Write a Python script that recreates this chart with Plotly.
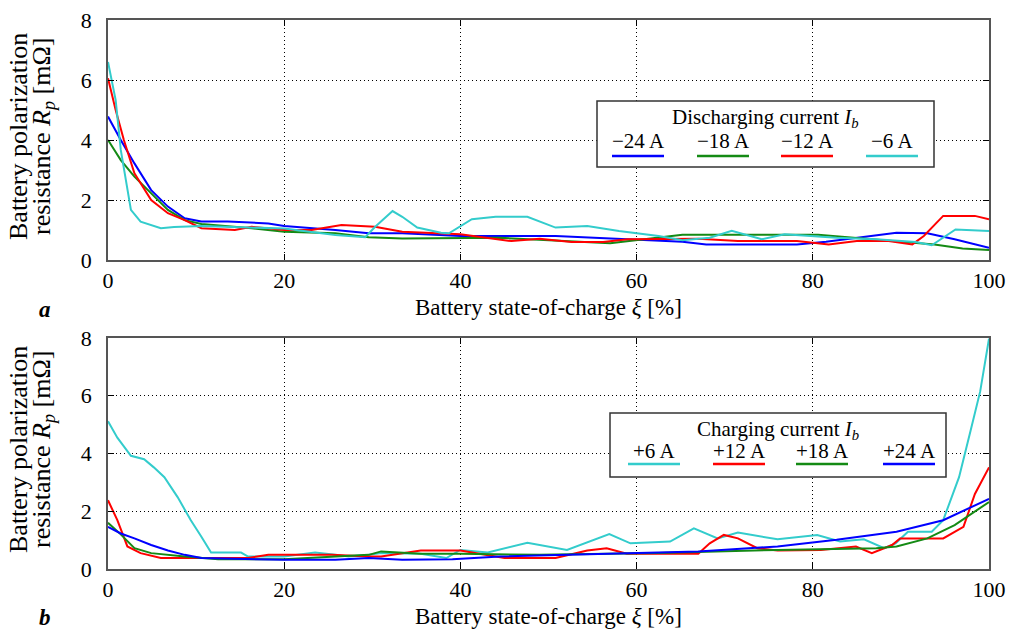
import plotly.graph_objects as go

# ---------------- data ----------------
# (a) discharging
dis_labels = ["\u221224 A", "\u221218 A", "\u221212 A", "\u22126 A"]
dis_colors = ["#0000ff", "#148a14", "#ff0000", "#33cccc"]

d24_x = [0, 1.45, 3.0, 4.9, 6.8, 8.7, 10.6, 13.6, 18.2, 20, 25.8, 29.6, 33.4, 40, 50.8, 58, 65.2, 67.9, 78.2, 81.5, 86.4, 89.5, 93, 96.1, 100]
d24_y = [4.78, 4.0, 3.22, 2.33, 1.78, 1.39, 1.28, 1.28, 1.22, 1.13, 1.0, 0.89, 0.89, 0.8, 0.8, 0.71, 0.61, 0.52, 0.52, 0.61, 0.8, 0.91, 0.89, 0.69, 0.41]

d18_x = [0, 1.45, 3.0, 4.9, 6.8, 8.7, 10.6, 16.3, 20, 25.8, 29.6, 33.4, 44.5, 57, 60.2, 65.2, 80.6, 85, 89.5, 93.8, 97, 100]
d18_y = [4.0, 3.33, 2.78, 2.22, 1.67, 1.33, 1.2, 1.06, 0.94, 0.89, 0.76, 0.72, 0.74, 0.56, 0.67, 0.84, 0.84, 0.74, 0.63, 0.52, 0.38, 0.33]

d12_x = [0, 0.87, 1.8, 3.0, 4.9, 6.8, 8.7, 10.6, 14.4, 16.3, 20, 23.1, 26.5, 30.3, 33.4, 36.4, 40, 45.8, 49, 52.6, 56.2, 59, 67, 71.5, 78.2, 81.8, 85, 88.6, 91.3, 92.6, 94.8, 98.4, 100]
d12_y = [6.06, 5.0, 4.0, 2.89, 2.0, 1.56, 1.33, 1.06, 1.0, 1.11, 1.0, 1.0, 1.17, 1.11, 0.94, 0.91, 0.86, 0.63, 0.71, 0.6, 0.6, 0.69, 0.71, 0.63, 0.63, 0.52, 0.63, 0.63, 0.52, 0.8, 1.47, 1.47, 1.36]

d6_x = [0, 0.87, 1.45, 2.0, 2.6, 3.7, 6.0, 7.5, 10.6, 20, 25.8, 29.2, 30.3, 32.3, 33.4, 35.1, 37.8, 38.7, 41.3, 44, 47.6, 50.8, 54.4, 58, 62.5, 65.2, 68.3, 70.8, 74.2, 76.8, 82.7, 87.2, 91.7, 93.5, 96.2, 100]
d6_y = [6.6, 5.33, 3.67, 2.67, 1.67, 1.28, 1.06, 1.1, 1.13, 1.05, 0.83, 0.76, 1.1, 1.63, 1.44, 1.08, 0.91, 0.89, 1.36, 1.44, 1.44, 1.08, 1.13, 0.97, 0.8, 0.66, 0.74, 0.97, 0.69, 0.86, 0.74, 0.69, 0.6, 0.49, 1.02, 0.97]

# (b) charging
chg_labels = ["+6 A", "+12 A", "+18 A", "+24 A"]
chg_colors = ["#33cccc", "#ff0000", "#148a14", "#0000ff"]

c6_x = [0, 1.06, 2.6, 4.1, 5.2, 6.4, 7.9, 9.4, 10.6, 11.7, 15.1, 15.9, 20, 23.5, 25.8, 27.3, 29.6, 31, 35.5, 38.4, 40, 43.1, 47.6, 52.1, 56.9, 59.3, 63.8, 66.5, 69.2, 71.5, 76, 80.5, 83.1, 85.8, 88.1, 89.4, 90.8, 93.5, 94.8, 96.6, 97.9, 99, 100]
c6_y = [5.12, 4.55, 3.92, 3.8, 3.52, 3.18, 2.49, 1.69, 1.12, 0.57, 0.57, 0.43, 0.43, 0.57, 0.49, 0.43, 0.49, 0.55, 0.53, 0.38, 0.66, 0.57, 0.91, 0.66, 1.21, 0.89, 0.95, 1.41, 1.06, 1.26, 1.03, 1.18, 0.95, 1.03, 0.72, 0.89, 1.29, 1.29, 1.69, 3.18, 4.78, 6.15, 7.98]

c12_x = [0, 1.06, 2.2, 3.7, 6.0, 10.6, 15.9, 18.2, 25.4, 29.6, 31, 35.5, 40, 45, 50.8, 54.4, 56.6, 58.9, 67, 68.3, 69.9, 71.5, 73.7, 76, 80.9, 84.9, 86.7, 89, 89.9, 94.8, 97.1, 98.4, 100]
c12_y = [2.38, 1.69, 0.78, 0.55, 0.38, 0.38, 0.38, 0.49, 0.49, 0.43, 0.43, 0.64, 0.64, 0.38, 0.38, 0.64, 0.72, 0.53, 0.53, 0.89, 1.18, 1.06, 0.72, 0.64, 0.66, 0.78, 0.55, 0.83, 1.06, 1.06, 1.46, 2.6, 3.52]

c18_x = [0, 1.45, 3.0, 4.9, 8.7, 12.5, 20, 29.6, 31, 35.5, 40, 49, 62.5, 76, 87.2, 89.5, 93, 96.1, 100]
c18_y = [1.6, 1.2, 0.72, 0.55, 0.43, 0.34, 0.34, 0.49, 0.61, 0.53, 0.53, 0.49, 0.55, 0.66, 0.72, 0.78, 1.06, 1.52, 2.32]

c24_x = [0, 1.45, 3.0, 4.9, 6.8, 8.7, 10.6, 20, 25.8, 29.6, 33.4, 39.1, 44.5, 57, 67, 76, 82.7, 89.5, 94.8, 100]
c24_y = [1.46, 1.23, 1.06, 0.83, 0.64, 0.49, 0.38, 0.32, 0.32, 0.38, 0.32, 0.34, 0.43, 0.53, 0.61, 0.78, 1.01, 1.29, 1.69, 2.43]

x_ticks = [0, 20, 40, 60, 80, 100]
y_ticks = [0, 2, 4, 6, 8]

# ---------------- figure ----------------
W, H = 1009, 630
ML, MT = 108, 20
MR = W - 989
MB = H - 569
PW, PH = W - ML - MR, H - MT - MB


def px(x):
    """page pixel x -> paper fraction"""
    return (x - ML) / PW


def py(y):
    """page pixel y -> paper fraction"""
    return (H - MB - y) / PH


FONT = "Liberation Serif"

fig = go.Figure()

dis_series = [(d24_x, d24_y), (d18_x, d18_y), (d12_x, d12_y), (d6_x, d6_y)]
for (xs, ys), lab, col in zip(dis_series, dis_labels, dis_colors):
    fig.add_trace(go.Scatter(x=xs, y=ys, mode="lines", name=lab, showlegend=False,
                             line=dict(color=col, width=2), xaxis="x", yaxis="y"))

chg_series = [(c6_x, c6_y), (c12_x, c12_y), (c18_x, c18_y), (c24_x, c24_y)]
for (xs, ys), lab, col in zip(chg_series, chg_labels, chg_colors):
    fig.add_trace(go.Scatter(x=xs, y=ys, mode="lines", name=lab, showlegend=False,
                             line=dict(color=col, width=2), xaxis="x2", yaxis="y2"))

axis_common = dict(
    showgrid=True, gridcolor="#000000", griddash="1px,3px", gridwidth=1,
    showline=True, linecolor="#555555", linewidth=1.5, mirror="ticks",
    ticks="inside", ticklen=6, tickcolor="#000000", tickwidth=1.2,
    zeroline=False, automargin=False, ticklabeloverflow="allow",
    tickfont=dict(family=FONT, size=22, color="#000"),
)

top_dom = [py(260), py(20)]
bot_dom = [py(569), py(338)]

fig.update_layout(
    width=W, height=H,
    margin=dict(l=ML, r=MR, t=MT, b=MB, autoexpand=False),
    paper_bgcolor="white", plot_bgcolor="white",
    showlegend=False,
    font=dict(family=FONT, size=20, color="#000"),
    xaxis=dict(domain=[0, 1], range=[0, 100], tickvals=x_ticks, anchor="y", ticklabelstandoff=0, **axis_common),
    yaxis=dict(domain=top_dom, range=[0, 8], tickvals=y_ticks, anchor="x", ticklabelstandoff=10, **axis_common),
    xaxis2=dict(domain=[0, 1], range=[0, 100], tickvals=x_ticks, anchor="y2", ticklabelstandoff=0, **axis_common),
    yaxis2=dict(domain=bot_dom, range=[0, 8], tickvals=y_ticks, anchor="x2", ticklabelstandoff=10, **axis_common),
)

ann = []
shapes = []
tfont = dict(family=FONT, size=23, color="#000")
yfont = dict(family=FONT, size=26, color="#000")
lfont = dict(family=FONT, size=21, color="#000")

# axis titles
for cy in (307, 616):
    ann.append(dict(x=px(548.5), y=py(cy), xref="paper", yref="paper", showarrow=False,
                    text="Battery state-of-charge <i>\u03be</i> [%]", font=tfont,
                    xanchor="center", yanchor="middle"))
for cy in (137, 450):
    ann.append(dict(x=px(18), y=py(cy), xref="paper", yref="paper", showarrow=False,
                    text="Battery polarization",
                    font=yfont, textangle=-90, xanchor="center", yanchor="middle"))
    ann.append(dict(x=px(43), y=py(cy), xref="paper", yref="paper", showarrow=False,
                    text="resistance <i>R<sub>p</sub></i> [m\u03a9]",
                    font=yfont, textangle=-90, xanchor="center", yanchor="middle"))
# panel letters
for letter, cy in (("a", 309), ("b", 617)):
    ann.append(dict(x=px(45), y=py(cy), xref="paper", yref="paper", showarrow=False,
                    text=f"<b><i>{letter}</i></b>", font=tfont,
                    xanchor="center", yanchor="middle"))


# manual legends (text above line sample)
def legend(box, title, title_y, text_y, line_y, labels, colors, lines_x):
    x0, y0, x1, y1 = box
    shapes.append(dict(type="rect", xref="paper", yref="paper",
                       x0=px(x0), x1=px(x1), y0=py(y1), y1=py(y0),
                       line=dict(color="#333333", width=1.5), fillcolor="white", layer="above"))
    ann.append(dict(x=px((x0 + x1) / 2), y=py(title_y), xref="paper", yref="paper",
                    showarrow=False, text=title, font=lfont, xanchor="center", yanchor="middle"))
    for lab, col, (a, b) in zip(labels, colors, lines_x):
        shapes.append(dict(type="line", xref="paper", yref="paper",
                           x0=px(a), x1=px(b), y0=py(line_y), y1=py(line_y),
                           line=dict(color=col, width=2.5), layer="above"))
        ann.append(dict(x=px((a + b) / 2), y=py(text_y), xref="paper", yref="paper",
                        showarrow=False, text=lab, font=lfont, xanchor="center", yanchor="middle"))


legend((597, 101, 934, 167), "Discharging current <i>I<sub>b</sub></i>", 118, 141, 156,
       dis_labels, dis_colors, [(612, 664), (697, 749), (781, 833), (866, 918)])
legend((610, 413, 946, 477), "Charging current <i>I<sub>b</sub></i>", 430, 451, 464,
       chg_labels, chg_colors, [(628, 680), (713, 765), (796, 848), (883, 935)])

fig.update_layout(annotations=ann, shapes=shapes)

# remove the default page margin so the 1009x630 figure fills the window exactly
fig.write_html(
    "out.html",
    config={"displayModeBar": False},
    post_script="document.body.style.margin='0';document.body.style.overflow='hidden';",
)
